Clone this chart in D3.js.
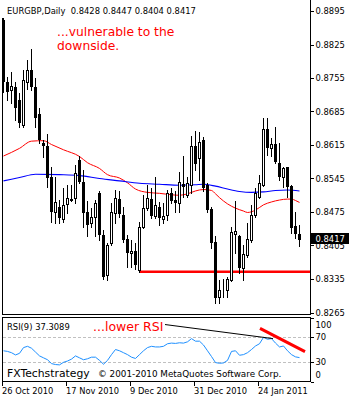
<!DOCTYPE html>
<html><head><meta charset="utf-8">
<script src="https://cdn.jsdelivr.net/npm/d3@7/dist/d3.min.js"></script>
<style>body{margin:0;background:#fff}svg{display:block}</style>
</head><body>
<svg id="c" width="350" height="400"></svg>
<script>
// ---------- data ----------
const symbolTitle = "EURGBP,Daily";
const opens  = [0.8876,0.8747,0.8729,0.8737,0.8708,0.8657,0.8747,0.8772,0.8736,0.8680,0.8620,0.8613,0.8549,0.8474,0.8486,0.8460,0.8491,0.8502,0.8504,0.8584,0.8538,0.8476,0.8451,0.8465,0.8514,0.8427,0.8343,0.8410,0.8472,0.8502,0.8469,0.8418,0.8389,0.8394,0.8354,0.8444,0.8483,0.8502,0.8467,0.8486,0.8460,0.8469,0.8515,0.8500,0.8493,0.8534,0.8511,0.8531,0.8613,0.8587,0.8626,0.8531,0.8481,0.8413,0.8297,0.8312,0.8313,0.8333,0.8430,0.8424,0.8357,0.8385,0.8417,0.8469,0.8507,0.8531,0.8649,0.8608,0.8617,0.8577,0.8549,0.8568,0.8529,0.8446,0.8428];
const highs  = [0.8880,0.8758,0.8768,0.8747,0.8723,0.8772,0.8793,0.8815,0.8754,0.8692,0.8626,0.8638,0.8570,0.8549,0.8500,0.8525,0.8531,0.8531,0.8573,0.8591,0.8563,0.8497,0.8483,0.8500,0.8518,0.8437,0.8410,0.8493,0.8521,0.8518,0.8486,0.8427,0.8417,0.8410,0.8455,0.8511,0.8531,0.8525,0.8549,0.8495,0.8493,0.8521,0.8525,0.8518,0.8558,0.8591,0.8549,0.8634,0.8645,0.8643,0.8632,0.8535,0.8485,0.8424,0.8332,0.8334,0.8340,0.8444,0.8499,0.8427,0.8406,0.8451,0.8490,0.8525,0.8552,0.8671,0.8671,0.8629,0.8653,0.8619,0.8570,0.8570,0.8531,0.8476,0.8447];
const lows   = [0.8726,0.8709,0.8702,0.8667,0.8653,0.8652,0.8733,0.8730,0.8653,0.8619,0.8589,0.8528,0.8455,0.8451,0.8451,0.8455,0.8472,0.8497,0.8493,0.8535,0.8444,0.8424,0.8444,0.8424,0.8417,0.8336,0.8333,0.8406,0.8451,0.8465,0.8413,0.8361,0.8361,0.8355,0.8350,0.8441,0.8479,0.8462,0.8462,0.8448,0.8451,0.8458,0.8493,0.8476,0.8476,0.8507,0.8507,0.8514,0.8563,0.8542,0.8518,0.8476,0.8399,0.8284,0.8284,0.8298,0.8298,0.8330,0.8389,0.8347,0.8333,0.8382,0.8413,0.8465,0.8504,0.8529,0.8594,0.8591,0.8577,0.8542,0.8528,0.8507,0.8432,0.8420,0.8404];
const closes = [0.8747,0.8726,0.8738,0.8692,0.8660,0.8751,0.8772,0.8736,0.8671,0.8626,0.8612,0.8545,0.8474,0.8495,0.8462,0.8490,0.8504,0.8499,0.8556,0.8538,0.8472,0.8448,0.8465,0.8493,0.8427,0.8340,0.8406,0.8476,0.8504,0.8471,0.8417,0.8390,0.8394,0.8364,0.8443,0.8483,0.8504,0.8467,0.8490,0.8462,0.8467,0.8514,0.8497,0.8493,0.8537,0.8528,0.8535,0.8613,0.8575,0.8622,0.8525,0.8479,0.8410,0.8295,0.8313,0.8313,0.8334,0.8434,0.8436,0.8357,0.8387,0.8418,0.8469,0.8514,0.8535,0.8649,0.8608,0.8617,0.8580,0.8549,0.8566,0.8528,0.8442,0.8429,0.8417];

// moving averages (bar index, price)
const maFastIdx = [0,4,7,10,12,15,19,21,24,26,29,31,33,36,39,42,44,46,48,50,52,53,54,56,58,60,61,63,65,67,69,71,72,73,74];
const maFastVal = [0.8592,0.8608,0.8623,0.8624,0.8616,0.8605,0.8591,0.8578,0.8566,0.8553,0.8546,0.8536,0.8523,0.8516,0.8514,0.8511,0.8510,0.8513,0.8519,0.8522,0.8520,0.8513,0.8505,0.8492,0.8483,0.8477,0.8474,0.8479,0.8490,0.8496,0.8500,0.8502,0.8502,0.8499,0.8495];
const maSlowIdx = [0,4,8,14,19,24,29,34,39,44,48,50,53,56,59,62,65,68,71,74];
const maSlowVal = [0.8540,0.8547,0.8554,0.8553,0.8551,0.8545,0.8540,0.8535,0.8533,0.8531,0.8532,0.8533,0.8529,0.8523,0.8518,0.8516,0.8517,0.8520,0.8521,0.8519];

// RSI(9), one value per bar
const rsiValues = [48,47,45,41.5,44,53,55,52,46,40,37,34,28,26.5,26,30,32,35,40,37,34,35.5,38,38,33,27,33,42,50,48,45,42,38,36,42,48,53,55,54,54,55,59,60,59.5,60.5,60,62,67,63,63,57,48,39,29.5,28.5,29,33,47,48,41,42,45,50,55.5,59,69,66,67,60,54,55.5,48,42,38.5,37.3089];

const priceTicks = [0.8895,0.8825,0.8755,0.8685,0.8615,0.8545,0.8475,0.8405,0.8335,0.8265];
const rsiTicks = [100,70,30,0];
const rsiLevels = [70,30];
const dateTickIdx = [0,16,32,48,64];
const dateTickLabels = ["26 Oct 2010","17 Nov 2010","9 Dec 2010","31 Dec 2010","24 Jan 2011"];
const supportLevel = 0.8350, supportStartIdx = 34;
const rsiBlackTrendIdx = [40.5,67.5], rsiBlackTrendVal = [89,67];
const rsiRedTrendIdx = [64.25,75.5], rsiRedTrendVal = [83,46.6];
const noteMain = ["...vulnerable to the","downside."];
const noteRsi = "...lower RSI";

// ---------- drawing ----------
const svg = d3.select("#c");
const FONT = "DejaVu Sans";
const n = closes.length;
const x = d3.scaleLinear().domain([0, n-1]).range([3, 299]);
const y = d3.scaleLinear().domain([0.8265, 0.8895]).range([312.5, 11]);
const yr = d3.scaleLinear().domain([0, 100]).range([381.5, 317.5]);
const lp = closes[n-1];
const boxTop = Math.round(y(lp))-7, boxH = 11;

// frames
const g = svg.append("g").attr("shape-rendering","crispEdges");
g.append("line").attr("x1",310.5).attr("x2",310.5).attr("y1",0).attr("y2",315).attr("stroke","#000");
g.append("line").attr("x1",2.5).attr("x2",2.5).attr("y1",18).attr("y2",315).attr("stroke","#000");
g.append("line").attr("x1",2).attr("x2",311).attr("y1",314.5).attr("y2",314.5).attr("stroke","#000");
g.append("rect").attr("x",2.5).attr("y",317.5).attr("width",308).attr("height",64).attr("fill","none").attr("stroke","#000");

// clip for price labels hidden by the last-price box
svg.append("defs").append("clipPath").attr("id","belowBox")
  .append("rect").attr("x",311).attr("y",boxTop+boxH).attr("width",39).attr("height",30);

// price axis
const pa = svg.append("g");
pa.selectAll("line").data(priceTicks).join("line")
  .attr("x1",311).attr("x2",314).attr("y1",d=>Math.round(y(d))+0.5).attr("y2",d=>Math.round(y(d))+0.5)
  .attr("stroke","#000").attr("shape-rendering","crispEdges");
pa.selectAll("text").data(priceTicks).join("text")
  .attr("x",315.5).attr("y",d=>y(d)).attr("dy","0.36em")
  .attr("font-family",FONT).attr("font-size",8.4).attr("fill","#000")
  .attr("clip-path",d=>Math.abs(y(d)-y(lp))<10 ? "url(#belowBox)" : null)
  .text(d=>d.toFixed(4));

// support line
svg.append("line").attr("x1",x(supportStartIdx)).attr("x2",310).attr("y1",y(supportLevel)).attr("y2",y(supportLevel))
  .attr("stroke","#ff0000").attr("stroke-width",2.6);

// moving averages
const maLine = d3.line().x(d=>x(d[0])+0.5).y(d=>y(d[1])).curve(d3.curveMonotoneX);
svg.append("path").datum(maFastIdx.map((d,i)=>[d,maFastVal[i]])).attr("d",maLine)
  .attr("fill","none").attr("stroke","#ff0000").attr("stroke-width",1);
svg.append("path").datum(maSlowIdx.map((d,i)=>[d,maSlowVal[i]])).attr("d",maLine)
  .attr("fill","none").attr("stroke","#0000ff").attr("stroke-width",1.1);

// candles
const cg = svg.append("g").attr("shape-rendering","crispEdges");
const bars = d3.range(n).map(i=>({i,o:opens[i],h:highs[i],l:lows[i],c:closes[i]}));
const cand = cg.selectAll("g").data(bars).join("g");
cand.append("line")
  .attr("x1",d=>Math.round(x(d.i))+0.5).attr("x2",d=>Math.round(x(d.i))+0.5)
  .attr("y1",d=>Math.round(y(d.h))).attr("y2",d=>Math.round(y(d.l))+1)
  .attr("stroke","#000");
cand.append("rect")
  .attr("x",d=>d.c>=d.o ? Math.round(x(d.i))-0.5 : Math.round(x(d.i))-1)
  .attr("y",d=>Math.round(y(Math.max(d.o,d.c))) + (d.c>=d.o?0.5:0))
  .attr("width",d=>d.c>=d.o?2:3)
  .attr("height",d=>Math.max(d.c>=d.o?0:1, Math.round(y(Math.min(d.o,d.c)))-Math.round(y(Math.max(d.o,d.c)))))
  .attr("fill",d=>d.c>=d.o?"#fff":"#000")
  .attr("stroke",d=>d.c>=d.o?"#000":"none");

// last price marker
svg.append("rect").attr("x",311).attr("y",boxTop).attr("width",38).attr("height",boxH).attr("fill","#000");
svg.append("text").attr("x",315.5).attr("y",boxTop+boxH/2).attr("dy","0.36em")
  .attr("font-family",FONT).attr("font-size",8.4).attr("fill","#fff").text(lp.toFixed(4));

// header
svg.append("text").attr("x",7).attr("y",14).attr("font-family",FONT).attr("font-size",8.4).attr("fill","#000")
  .attr("xml:space","preserve")
  .text(symbolTitle+"  "+[opens[n-1],highs[n-1],lows[n-1],closes[n-1]].map(v=>v.toFixed(4)).join(" "));

// main note
svg.append("g").selectAll("text").data(noteMain).join("text")
  .attr("x",57).attr("y",(d,i)=>36+i*13.5).attr("font-family",FONT).attr("font-size",12.3).attr("fill","#ff0000")
  .text(d=>d);

// RSI panel
svg.append("g").selectAll("line").data(rsiLevels).join("line")
  .attr("x1",3).attr("x2",310).attr("y1",d=>Math.round(yr(d))+0.5).attr("y2",d=>Math.round(yr(d))+0.5)
  .attr("stroke","#c0c0c0").attr("stroke-dasharray","3,2").attr("shape-rendering","crispEdges");
svg.append("path").datum(rsiValues).attr("d",d3.line().x((d,i)=>x(i)+0.5).y(d=>yr(d)))
  .attr("fill","none").attr("stroke","#1e90ff").attr("stroke-width",1);
svg.append("line").attr("x1",x(rsiBlackTrendIdx[0])).attr("x2",x(rsiBlackTrendIdx[1]))
  .attr("y1",yr(rsiBlackTrendVal[0])).attr("y2",yr(rsiBlackTrendVal[1])).attr("stroke","#000").attr("stroke-width",1);
svg.append("line").attr("x1",x(rsiRedTrendIdx[0])).attr("x2",x(rsiRedTrendIdx[1]))
  .attr("y1",yr(rsiRedTrendVal[0])).attr("y2",yr(rsiRedTrendVal[1])).attr("stroke","#ff0000").attr("stroke-width",3);

const ra = svg.append("g");
ra.selectAll("line").data(rsiTicks).join("line")
  .attr("x1",311).attr("x2",314).attr("y1",d=>Math.round(yr(d))+0.5).attr("y2",d=>Math.round(yr(d))+0.5)
  .attr("stroke","#000").attr("shape-rendering","crispEdges");
ra.selectAll("text").data(rsiTicks).join("text")
  .attr("x",315.5).attr("y",d=>Math.max(324.5, Math.min(375, yr(d)))).attr("dy","0.36em")
  .attr("font-family",FONT).attr("font-size",8.4).attr("fill","#000").text(d=>d);

svg.append("text").attr("x",7).attr("y",330).attr("font-family",FONT).attr("font-size",8.4).attr("fill","#000")
  .text("RSI(9) "+rsiValues[n-1].toFixed(4));
svg.append("text").attr("x",93).attr("y",331).attr("font-family",FONT).attr("font-size",12.5).attr("fill","#ff0000")
  .text(noteRsi);
svg.append("text").attr("x",7).attr("y",377).attr("font-family",FONT).attr("font-size",10.8).attr("fill","#000")
  .text("FXTechstrategy");
svg.append("text").attr("x",98).attr("y",377).attr("font-family",FONT).attr("font-size",8.8).attr("fill","#000")
  .text("\u00a9 2001-2010 MetaQuotes Software Corp.");

// date axis
const da = svg.append("g");
da.selectAll("line").data(dateTickIdx).join("line")
  .attr("x1",d=>Math.round(x(d))-0.5).attr("x2",d=>Math.round(x(d))-0.5).attr("y1",382).attr("y2",386)
  .attr("stroke","#000").attr("shape-rendering","crispEdges");
da.selectAll("text").data(dateTickIdx).join("text")
  .attr("x",d=>x(d)-1).attr("y",394).attr("font-family",FONT).attr("font-size",8.3).attr("fill","#000")
  .text((d,i)=>dateTickLabels[i]);
</script>
</body></html>
